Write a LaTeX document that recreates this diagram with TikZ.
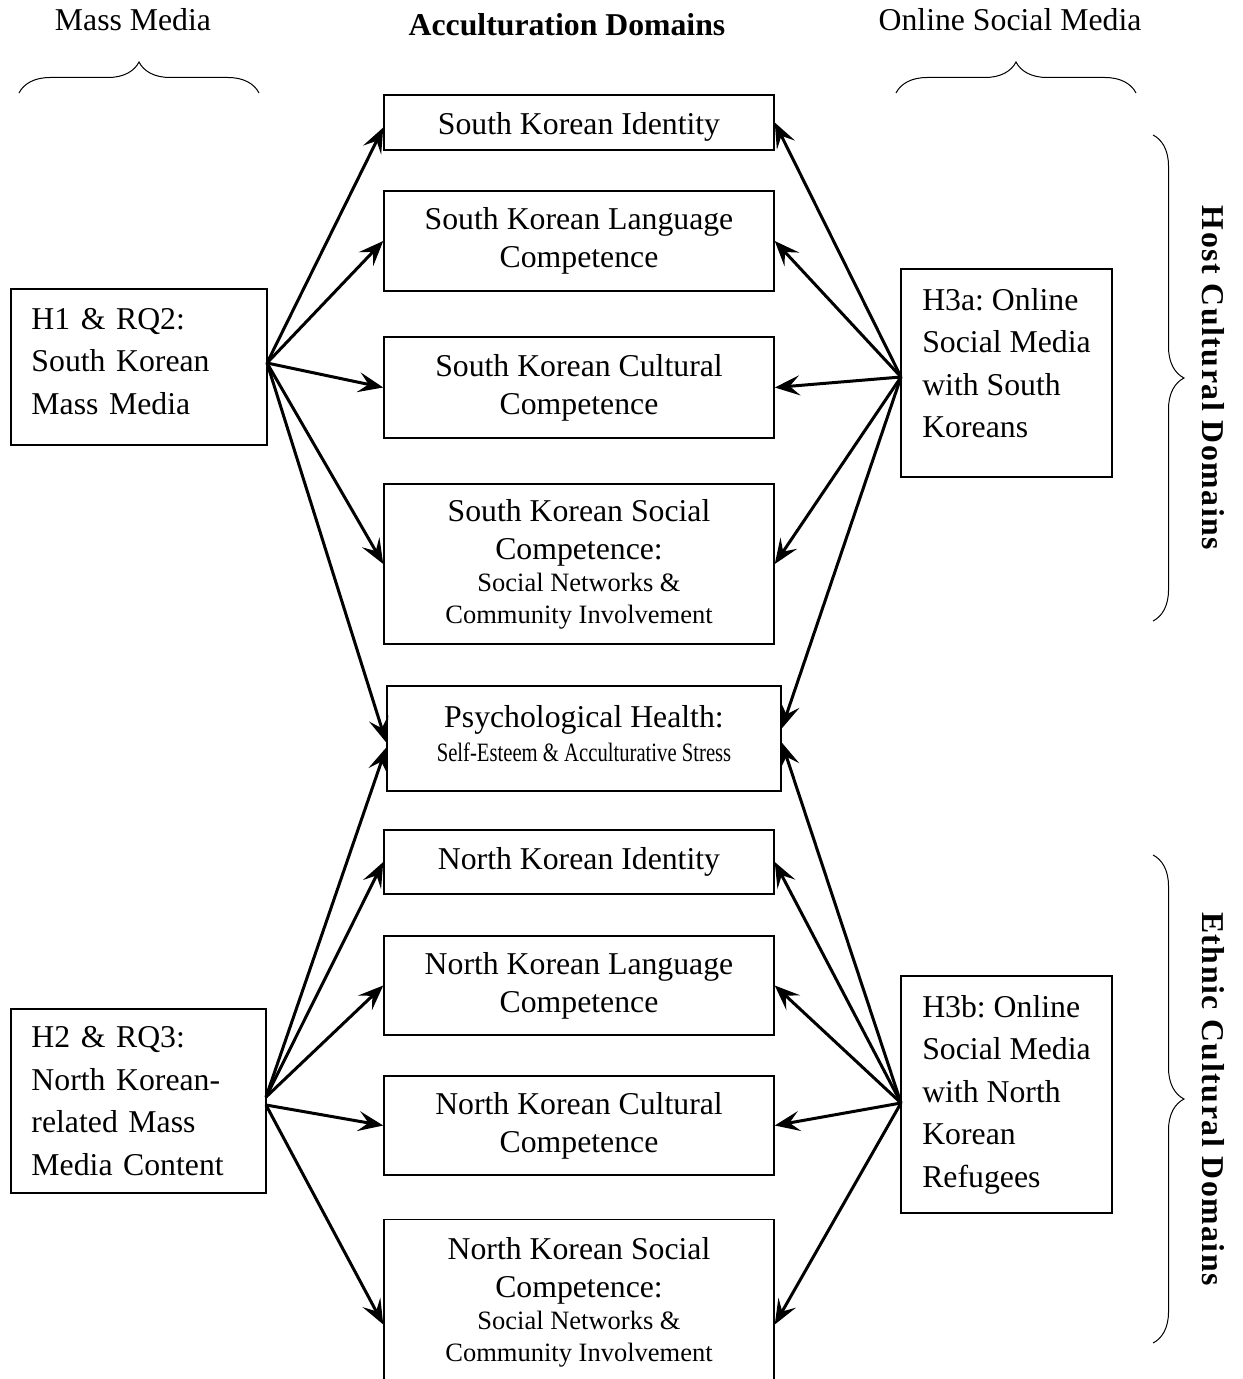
\documentclass[tikz,border=0pt]{standalone}
\usepackage{fontspec}
\setmainfont{Liberation Serif}
\usepackage{tikz}
\usetikzlibrary{arrows.meta,decorations.pathreplacing}

\begin{document}
\frenchspacing
\begin{tikzpicture}[x=0.4pt,y=-0.4pt,
        dom/.style={draw,line width=0.6pt,minimum width=156pt,inner sep=0pt,align=center,
                font=\fontsize{12.7}{15.2}\selectfont},
        src/.style={draw,line width=0.6pt,inner ysep=0pt,align=left,
                font=\fontsize{12.7}{17}\selectfont},
        hdr/.style={font=\fontsize{12.7}{15.2}\selectfont},
        side/.style={rotate=-90,font=\fontsize{12.7}{15.2}\selectfont\bfseries\addfontfeatures{LetterSpace=5}},
        brc/.style={decorate,decoration={brace,amplitude=12.4pt},line width=0.4pt},
        link/.style={->,line width=1.2pt},
        >={Stealth[length=10pt,width=8pt,inset=4pt]}]
        \useasboundingbox (0,0) rectangle (1243,1379);
        \clip (0,0) rectangle (1243,1379);

        \node[hdr] (mm) at (133,20) {Mass Media};
        \node[hdr,font=\fontsize{12.7}{15.2}\selectfont\bfseries] (ad) at (567,25) {Acculturation Domains};
        \node[hdr] (osm) at (1010,20) {Online Social Media};
        \draw[brc] (19,93) -- (259,93);
        \draw[brc] (896,93) -- (1136,93);
        \draw[brc] (1153,135) -- (1153,621);
        \draw[brc] (1153,855) -- (1153,1343);
        \node[side] (host) at (1213,378) {Host Cultural Domains};
        \node[side] (eth) at (1213,1099) {Ethnic Cultural Domains};

        \node[dom,minimum height=22pt,text height=12.7pt,text depth=2.8pt] (sid) at (579,122.5) {South Korean Identity};
        \node[dom,minimum height=40pt] (slang) at (579,241) {South Korean Language\\Competence};
        \node[dom,minimum height=40.4pt] (scult) at (579,387.5) {South Korean Cultural\\Competence};
        \node[dom,minimum height=64pt] (ssoc) at (579,564) {South Korean Social\\Competence:\\[-2.4pt]
                {\fontsize{10.6}{12.8}\selectfont Social Networks \&}\\[-2.4pt]
                {\fontsize{10.6}{12.8}\selectfont Community Involvement}};
        \node[dom,minimum width=157.6pt,minimum height=42pt] (psy) at (584,738.5) {Psychological Health:\\[-1.6pt]
                {\fontsize{10.6}{12.8}\selectfont\scalebox{0.78}[1]{Self-Esteem \& Acculturative Stress}}\\[-11.2pt]\mbox{}};
        \node[dom,minimum height=25.6pt] (nid) at (579,862) {North Korean Identity};
        \node[dom,minimum height=39.6pt] (nlang) at (579,985.5) {North Korean Language\\Competence};
        \node[dom,minimum height=39.6pt] (ncult) at (579,1125.5) {North Korean Cultural\\Competence};
        \node[dom,minimum height=66pt] (nsoc) at (579,1302) {North Korean Social\\Competence:\\[-2.4pt]
                {\fontsize{10.6}{12.8}\selectfont Social Networks \&}\\[-2.4pt]
                {\fontsize{10.6}{12.8}\selectfont Community Involvement}};

        \node[src,text width=86pt,inner xsep=8.2pt,minimum height=62.4pt] (skm) at (139,367)
                {H1 \& RQ2:\\South Korean\\Mass Media\\[-12.2pt]\mbox{}};
        \node[src,text width=85.6pt,inner xsep=8.2pt,minimum height=73.6pt] (nkm) at (138.5,1101)
                {H2 \& RQ3:\\North Korean-\\related Mass\\Media Content};
        \node[src,minimum width=84.4pt,minimum height=83.2pt] (sko) at (1006.5,373)
                {H3a: Online\\Social Media\\with South\\Koreans\\[-9pt]\mbox{}};
        \node[src,minimum width=84.4pt,minimum height=94.8pt] (nko) at (1006.5,1094.5)
                {H3b: Online\\Social Media\\with North\\Korean\\Refugees};

        \coordinate (a1) at (267,363);
        \coordinate (a2) at (266,1097);
        \coordinate (a3) at (266,1105);
        \coordinate (b1) at (901,377);
        \coordinate (b2) at (901,1103);

        \path[link]
        (a1) edge ([yshift=-2pt]sid.west)
        (a1) edge (slang.west)
        (a1) edge (scult.west)
        (a1) edge (ssoc.west)
        (a1) edge ([yshift=-1.6pt]psy.west)
        (a2) edge ([yshift=-3.6pt]psy.west)
        (a2) edge (nid.west)
        (a2) edge (nlang.west)
        (a3) edge (ncult.west)
        (a3) edge ([yshift=-9pt]nsoc.west)
        ;
        \path[link]
        (b1) edge (sid.east)
        (b1) edge (slang.east)
        (b1) edge (scult.east)
        (b1) edge (ssoc.east)
        (b1) edge ([yshift=4pt]psy.east)
        (b2) edge ([yshift=-1.6pt]psy.east)
        (b2) edge (nid.east)
        (b2) edge (nlang.east)
        (b2) edge (ncult.east)
        (b2) edge ([yshift=-9pt]nsoc.east)
        ;
\end{tikzpicture}
\end{document}
